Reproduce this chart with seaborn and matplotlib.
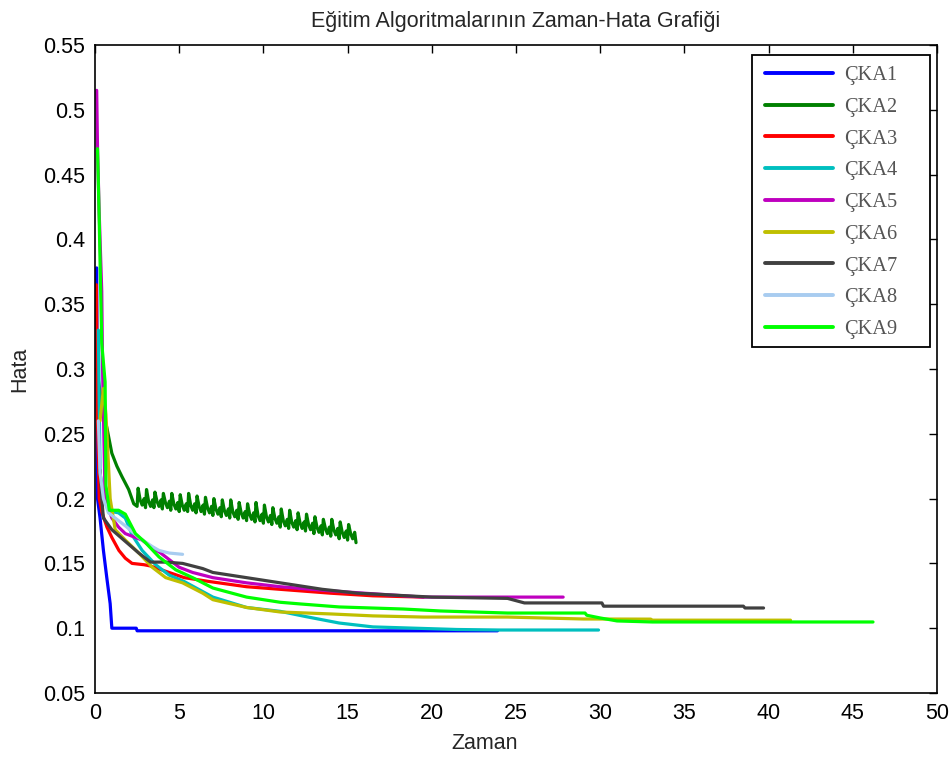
import numpy as np
import pandas as pd
import matplotlib
matplotlib.use("Agg")
import matplotlib.pyplot as plt
import seaborn as sns
from matplotlib.patches import Rectangle

# ---------------- data ----------------
series = ["ÇKA1", "ÇKA2", "ÇKA3", "ÇKA4", "ÇKA5", "ÇKA6", "ÇKA7", "ÇKA8", "ÇKA9"]
colors = ["#0000FF", "#008000", "#FF0000", "#00BFBF", "#BF00BF",
          "#BFBF00", "#404040", "#A8CCF0", "#00FF00"]

x1 = [0.1, 0.15, 0.3, 0.5, 0.7, 0.9, 1.0, 2.45, 2.5, 23.9]
y1 = [0.378, 0.2, 0.185, 0.16, 0.139, 0.119, 0.1, 0.1, 0.098, 0.098]

x2 = [0.1, 0.5, 0.7, 1.0, 1.3, 1.6, 2.0, 2.3,
      2.5, 2.56, 2.68, 2.8, 2.92,
      3.0, 3.06, 3.18, 3.3, 3.42,
      3.5, 3.56, 3.68, 3.8, 3.92,
      4.0, 4.06, 4.18, 4.3, 4.42,
      4.5, 4.56, 4.68, 4.8, 4.92,
      5.0, 5.06, 5.18, 5.3, 5.42,
      5.5, 5.56, 5.68, 5.8, 5.92,
      6.0, 6.06, 6.18, 6.3, 6.42,
      6.5, 6.56, 6.68, 6.8, 6.92,
      7.0, 7.06, 7.18, 7.3, 7.42,
      7.5, 7.56, 7.68, 7.8, 7.92,
      8.0, 8.06, 8.18, 8.3, 8.42,
      8.5, 8.56, 8.68, 8.8, 8.92,
      9.0, 9.06, 9.18, 9.3, 9.42,
      9.5, 9.56, 9.68, 9.8, 9.92,
      10.0, 10.06, 10.18, 10.3, 10.42,
      10.5, 10.56, 10.68, 10.8, 10.92,
      11.0, 11.06, 11.18, 11.3, 11.42,
      11.5, 11.56, 11.68, 11.8, 11.92,
      12.0, 12.06, 12.18, 12.3, 12.42,
      12.5, 12.56, 12.68, 12.8, 12.92,
      13.0, 13.06, 13.18, 13.3, 13.42,
      13.5, 13.56, 13.68, 13.8, 13.92,
      14.0, 14.06, 14.18, 14.3, 14.42,
      14.5, 14.56, 14.68, 14.8, 14.92,
      15.0, 15.06, 15.18, 15.3, 15.42,
      15.5]
y2 = [0.30, 0.265, 0.255, 0.235, 0.225, 0.217, 0.207, 0.196,
      0.194, 0.208, 0.199, 0.195, 0.200,
      0.193, 0.207, 0.198, 0.194, 0.199,
      0.193, 0.205, 0.198, 0.194, 0.199,
      0.192, 0.204, 0.197, 0.193, 0.198,
      0.191, 0.204, 0.196, 0.192, 0.197,
      0.190, 0.203, 0.195, 0.191, 0.196,
      0.190, 0.204, 0.195, 0.191, 0.196,
      0.189, 0.202, 0.194, 0.190, 0.195,
      0.188, 0.201, 0.193, 0.189, 0.194,
      0.187, 0.200, 0.192, 0.188, 0.193,
      0.186, 0.199, 0.191, 0.187, 0.192,
      0.185, 0.199, 0.190, 0.186, 0.191,
      0.184, 0.197, 0.189, 0.185, 0.190,
      0.183, 0.196, 0.188, 0.184, 0.189,
      0.182, 0.197, 0.187, 0.183, 0.188,
      0.181, 0.195, 0.186, 0.182, 0.187,
      0.180, 0.193, 0.185, 0.181, 0.186,
      0.178, 0.192, 0.183, 0.179, 0.184,
      0.177, 0.191, 0.182, 0.178, 0.183,
      0.176, 0.189, 0.181, 0.177, 0.182,
      0.175, 0.188, 0.180, 0.176, 0.181,
      0.173, 0.186, 0.178, 0.174, 0.179,
      0.172, 0.184, 0.177, 0.173, 0.178,
      0.171, 0.184, 0.176, 0.172, 0.177,
      0.169, 0.182, 0.174, 0.170, 0.175,
      0.168, 0.180, 0.173, 0.169, 0.174,
      0.166]

x3 = [0.08, 0.15, 0.25, 0.42, 0.71, 1.0, 1.42, 1.8, 2.2, 2.9, 3.3, 4.4, 5.3, 6.8,
      9.0, 11.0, 14.0, 16.5, 19.5]
y3 = [0.365, 0.26, 0.2, 0.189, 0.178, 0.170, 0.160, 0.154, 0.150, 0.149, 0.148,
      0.143, 0.139, 0.136, 0.132, 0.130, 0.127, 0.125, 0.124]

x4 = [0.2, 0.3, 0.5, 1.0, 1.4, 1.8, 2.2, 2.8, 3.6, 4.4, 5.3, 7.0, 9.0, 11.0,
      12.5, 14.5, 16.5, 19.0, 21.5, 24.0, 29.9]
y4 = [0.33, 0.22, 0.2, 0.19, 0.189, 0.185, 0.172, 0.160, 0.149, 0.141, 0.136,
      0.124, 0.116, 0.113, 0.109, 0.104, 0.101, 0.100, 0.099, 0.0986, 0.0986]

x5 = [0.1, 0.15, 0.25, 0.3, 0.4, 0.45, 0.6, 1.0, 1.4, 1.8, 2.8, 3.2, 3.9, 5.0,
      5.8, 7.0, 9.0, 11.0, 13.8, 16.0, 19.5, 27.8]
y5 = [0.515, 0.47, 0.42, 0.40, 0.36, 0.30, 0.20, 0.185, 0.178, 0.173, 0.168,
      0.164, 0.158, 0.147, 0.143, 0.139, 0.135, 0.132, 0.129, 0.127, 0.124, 0.124]

x6 = [0.3, 0.5, 0.65, 0.9, 1.2, 1.8, 2.6, 3.4, 4.2, 5.2, 6.4, 7.0, 9.0, 11.0,
      12.0, 14.0, 16.5, 19.5, 24.5, 29.0, 33.0, 33.1, 41.3]
y6 = [0.26, 0.285, 0.265, 0.2, 0.176, 0.168, 0.158, 0.147, 0.139, 0.135, 0.127,
      0.122, 0.116, 0.1125, 0.112, 0.111, 0.1095, 0.1086, 0.1086, 0.1071, 0.107,
      0.1062, 0.1062]

x7 = [0.3, 0.4, 0.5, 1.0, 1.8, 2.6, 3.3, 4.2, 5.2, 6.4, 7.0, 9.0, 11.0, 13.5,
      15.6, 20.0, 24.5, 25.5, 30.1, 30.2, 38.5, 38.6, 39.7]
y7 = [0.222, 0.2, 0.185, 0.176, 0.167, 0.158, 0.151, 0.151, 0.150, 0.146, 0.143,
      0.139, 0.135, 0.130, 0.127, 0.124, 0.123, 0.1195, 0.1195, 0.117, 0.117,
      0.1156, 0.1156]

x8 = [0.2, 0.3, 0.5, 0.8, 1.4, 1.8, 2.6, 3.4, 3.8, 4.4, 5.2]
y8 = [0.26, 0.22, 0.2, 0.189, 0.183, 0.179, 0.170, 0.163, 0.160, 0.158, 0.157]

x9 = [0.15, 0.25, 0.4, 0.6, 0.65, 0.85, 1.4, 1.8, 2.0, 2.4, 3.0, 3.8, 4.8, 5.8,
      7.0, 9.0, 11.0, 12.2, 14.5, 18.3, 20.5, 24.5, 29.1, 29.2, 30.0, 31.0, 33.1, 46.2]
y9 = [0.47, 0.415, 0.32, 0.29, 0.21, 0.191, 0.191, 0.188, 0.183, 0.173, 0.166,
      0.155, 0.145, 0.139, 0.131, 0.124, 0.120, 0.1187, 0.1164, 0.1148, 0.1133,
      0.1117, 0.1117, 0.110, 0.1079, 0.1056, 0.1048, 0.1048]

xs = [x1, x2, x3, x4, x5, x6, x7, x8, x9]
ys = [y1, y2, y3, y4, y5, y6, y7, y8, y9]

x_ticks = [0, 5, 10, 15, 20, 25, 30, 35, 40, 45, 50]
y_ticks = [0.05, 0.1, 0.15, 0.2, 0.25, 0.3, 0.35, 0.4, 0.45, 0.5, 0.55]
y_ticklabels = ["0.05", "0.1", "0.15", "0.2", "0.25", "0.3", "0.35", "0.4",
                "0.45", "0.5", "0.55"]

title = "Eğitim Algoritmalarının Zaman-Hata Grafiği"
xlabel = "Zaman"
ylabel = "Hata"

# ---------------- build long table ----------------
df = pd.concat(
    [pd.DataFrame({"Zaman": x, "Hata": y, "Seri": s}) for s, x, y in zip(series, xs, ys)],
    ignore_index=True,
)

# ---------------- plot ----------------
sns.set_style("white")
plt.rcParams["font.family"] = ["Liberation Sans", "DejaVu Sans"]

fig = plt.figure(figsize=(9.51, 7.58), dpi=100)
ax = fig.add_axes([95 / 951, 1 - 693 / 758, 842 / 951, 648 / 758])

sns.lineplot(data=df, x="Zaman", y="Hata", hue="Seri", hue_order=series,
             palette=dict(zip(series, colors)), sort=False, estimator=None,
             linewidth=2.3, ax=ax)

ax.set_xlim(0, 50)
ax.set_ylim(0.05, 0.55)
ax.set_xticks(x_ticks)
ax.set_xticklabels([str(t) for t in x_ticks])
ax.set_yticks(y_ticks)
ax.set_yticklabels(y_ticklabels)
ax.tick_params(direction="in", top=True, right=True, length=6, width=1.0,
               labelsize=15.5, pad=7, colors="black")
for sp in ax.spines.values():
    sp.set_visible(True)
    sp.set_color("black")
    sp.set_linewidth(1.2)

ax.set_title(title, fontsize=15.5, pad=13)
ax.set_xlabel(xlabel, fontsize=15.5)
ax.xaxis.set_label_coords((485 - 95) / 842, -(733 - 693) / 648)
ax.set_ylabel(ylabel, fontsize=15.5)
ax.yaxis.set_label_coords(-(95 - 30) / 842, 0.5)

# legend: frame drawn as a rectangle, entries without frame
handles, labels = ax.get_legend_handles_labels()
if ax.get_legend() is not None:
    ax.get_legend().remove()
frame = Rectangle((0.780, 0.534), 0.2117, 0.4506, transform=ax.transAxes,
                  facecolor="white", edgecolor="black", linewidth=1.3, zorder=4)
ax.add_patch(frame)
leg = ax.legend(handles, labels, loc="upper left", bbox_to_anchor=(0.7957, 0.968),
                frameon=False, borderpad=0, borderaxespad=0, handlelength=3.33,
                handletextpad=0.54, labelspacing=0.61,
                prop={"family": ["Liberation Serif", "DejaVu Serif"], "size": 14.7})
leg.set_zorder(5)
for h in leg.get_lines():
    h.set_linewidth(2.8)
for t in leg.get_texts():
    t.set_color("#555555")

fig.savefig("out.png", dpi=100, facecolor="white")
